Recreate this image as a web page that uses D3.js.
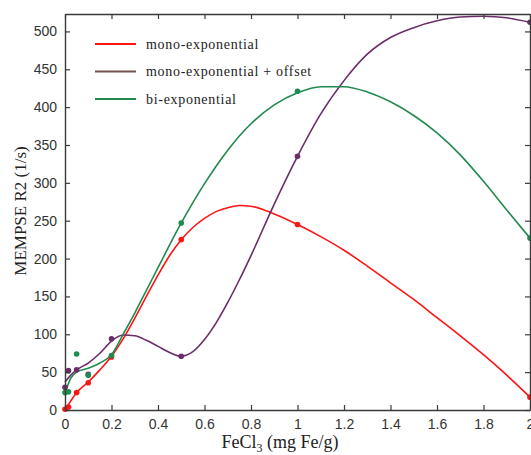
<!DOCTYPE html>
<html><head><meta charset="utf-8">
<script src="https://cdn.jsdelivr.net/npm/d3@7"></script>
<style>body{margin:0;background:#fff}svg{display:block}</style>
</head><body>
<svg id="chart" width="531" height="455"></svg>
<script>
// ---- data ----
const seriesNames = ["mono-exponential", "mono-exponential + offset", "bi-exponential"];
const xTicks = [0, 0.2, 0.4, 0.6, 0.8, 1, 1.2, 1.4, 1.6, 1.8, 2];
const yTicks = [0, 50, 100, 150, 200, 250, 300, 350, 400, 450, 500];

const pointX = [0, 0.015, 0.05, 0.1, 0.2, 0.5, 1, 2];
const redPoints = [1, 4, 23, 36, 70, 225, 245, 17];
const purplePoints = [30, 52, 53, 47, 94, 71, 335, 512];
const greenPoints = [23, 24, 74, 46, 72, 247, 421, 227];

const curveX = [0, 0.025, 0.05, 0.1, 0.15, 0.2, 0.25, 0.3, 0.35, 0.4, 0.45, 0.5, 0.55, 0.6, 0.65, 0.7, 0.75, 0.8, 0.9, 1.0, 1.1, 1.2, 1.3, 1.4, 1.5, 1.6, 1.7, 1.8, 1.9, 2.0];
const redCurve = [0, 12, 23, 37, 53, 71, 94, 121, 150, 178, 204, 225, 241, 253, 262, 267, 270, 269, 259, 245, 229, 211, 190, 168, 146, 122, 98, 73, 46, 17];
const purpleCurve = [37, 46, 53, 62, 75, 91, 99, 98, 92, 84, 76, 71, 77, 93, 115, 142, 172, 204, 272, 335, 391, 435, 470, 492, 505, 514, 519, 520, 518, 512];
const greenCurve = [22, 42, 50, 55, 62, 73, 100, 128, 158, 188, 218, 247, 274, 299, 322, 343, 362, 378, 403, 419, 427, 427, 420, 407, 389, 366, 337, 302, 264, 227];

const colors = ["#ff1414", "#6a2d68", "#218a4f"];
const legendColors = ["#ff1414", "#75504f", "#218a4f"];

// ---- layout ----
const svg = d3.select("#chart");
const L = 65, R = 530, T = 14, B = 410;
const x = d3.scaleLinear().domain([0, 2]).range([L, R]);
const y = d3.scaleLinear().domain([0, 523]).range([B, T]);

const series = [
  {pts: redPoints, curve: redCurve},
  {pts: purplePoints, curve: purpleCurve},
  {pts: greenPoints, curve: greenCurve}
];

// curves
const line = d3.line().x(d => x(d[0])).y(d => y(d[1])).curve(d3.curveMonotoneX);
const plot = svg.append("g");
series.forEach((s, i) => {
  plot.append("path")
    .attr("d", line(curveX.map((v, j) => [v, s.curve[j]])))
    .attr("fill", "none").attr("stroke", colors[i]).attr("stroke-width", 1.6);
});
series.forEach((s, i) => {
  plot.selectAll(null).data(pointX.map((v, j) => [v, s.pts[j]])).enter()
    .append("circle")
    .attr("cx", d => x(d[0])).attr("cy", d => y(d[1])).attr("r", 2.8)
    .attr("fill", colors[i]);
});

// frame & axes
const tickFont = "'Liberation Sans', Arial, sans-serif";
const axB = svg.append("g").attr("transform", `translate(0,${B})`)
  .call(d3.axisBottom(x).tickValues(xTicks).tickSizeInner(-5).tickSizeOuter(0).tickPadding(9).tickFormat(d3.format("")));
const axT = svg.append("g").attr("transform", `translate(0,${T})`)
  .call(d3.axisTop(x).tickValues(xTicks).tickSizeInner(-5).tickSizeOuter(0).tickFormat(""));
const axL = svg.append("g").attr("transform", `translate(${L},0)`)
  .call(d3.axisLeft(y).tickValues(yTicks).tickSizeInner(-5).tickSizeOuter(0).tickPadding(8));
const axR = svg.append("g").attr("transform", `translate(${R},0)`)
  .call(d3.axisRight(y).tickValues(yTicks).tickSizeInner(-5).tickSizeOuter(0).tickFormat(""));
[axB, axT, axL, axR].forEach(a => {
  a.select(".domain").attr("stroke", "#3a3a3a").attr("stroke-width", 1.4);
  a.selectAll(".tick line").attr("stroke", "#3a3a3a").attr("stroke-width", 1.2);
  a.selectAll("text").attr("font-family", tickFont).attr("font-size", 14).attr("fill", "#333");
});

// axis titles
const serif = "'Liberation Serif', 'Times New Roman', serif";
const xt = svg.append("text").attr("x", 280).attr("y", 448).attr("text-anchor", "middle")
  .attr("font-family", serif).attr("font-size", 18).attr("fill", "#222");
xt.append("tspan").text("FeCl");
xt.append("tspan").attr("font-size", 12).attr("dy", 4).text("3");
xt.append("tspan").attr("dy", -4).text(" (mg Fe/g)");

svg.append("text").attr("transform", "translate(26,211) rotate(-90)").attr("text-anchor", "middle")
  .attr("font-family", serif).attr("font-size", 17).attr("fill", "#222").text("MEMPSE R2 (1/s)");

// legend
const legY = [44, 71.5, 99];
seriesNames.forEach((n, i) => {
  svg.append("line").attr("x1", 95).attr("x2", 136).attr("y1", legY[i]).attr("y2", legY[i])
    .attr("stroke", legendColors[i]).attr("stroke-width", 2);
  svg.append("text").attr("x", 146).attr("y", legY[i] + 4.5)
    .attr("font-family", serif).attr("font-size", 14).attr("letter-spacing", 0.7).attr("fill", "#222").text(n);
});
</script>
</body></html>
